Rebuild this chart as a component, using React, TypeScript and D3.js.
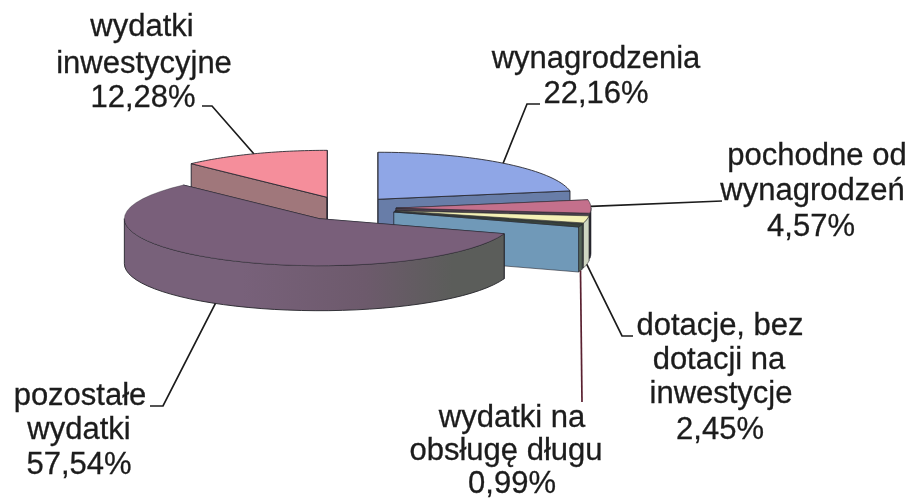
import React, { useEffect, useRef } from 'react'
import * as d3 from 'd3'

const categories = [
  'wynagrodzenia',
  'pochodne od wynagrodzeń',
  'dotacje, bez dotacji na inwestycje',
  'wydatki na obsługę długu',
  'pozostałe wydatki',
  'wydatki inwestycyjne',
]
const shares = [22.16, 4.57, 2.45, 0.99, 57.54, 12.28]
const labelLines = [
  ['wynagrodzenia'],
  ['pochodne od', 'wynagrodzeń'],
  ['dotacje, bez', 'dotacji na', 'inwestycje'],
  ['wydatki na', 'obsługę długu'],
  ['pozostałe', 'wydatki'],
  ['wydatki', 'inwestycyjne'],
]
const topColors = ['#8fa6e6', '#c4708c', '#f4f1b6', '#39443c', '#795f7a', '#f58e9b']
const sideColors = ['#687da8', '#4b3f4c', '#55604f', '#7099b8', '#5f5663', '#a0777b']
const rimColors = ['#687da8', '#23232b', '#cfd6c2', '#56665a', 'url(#rimPurple)', '#7a5f62']

// projection of the tilted pie
const cx = 346
const cy = 208.5
const rx = 195
const ry = 47
const depth = 45
const explode = 50

// label placement, one [x, baseline] per text line, same order as categories
const labelPos: [number, number][][] = [
  [[596, 68], [596, 103]],
  [[817, 165], [812.5, 200], [811, 236]],
  [[720, 335], [719, 369], [721, 403], [720, 439]],
  [[512, 427], [506, 460], [512, 493]],
  [[80, 405], [79, 439], [79, 474]],
  [[142, 36], [144, 73], [143, 107]],
]
const elbows: [number, number][][] = [
  [[527, 104], [540, 104]],
  [[722, 201]],
  [[622, 336], [633, 336]],
  [[582, 402]],
  [[163, 406], [150, 406]],
  [[212, 106], [202, 106]],
]
const leaderColors = ['#1c1c1c', '#1c1c1c', '#1c1c1c', '#5a2030', '#1c1c1c', '#1c1c1c']

const drawOrder = [5, 0, 1, 2, 3, 4]
const fmt = (v: number) => v.toFixed(2).replace('.', ',') + '%'

export default function App() {
  const ref = useRef<SVGSVGElement>(null)

  useEffect(() => {
    const svg = d3.select(ref.current)
    svg.selectAll('*').remove()

    const grad = svg.append('defs').append('linearGradient')
      .attr('id', 'rimPurple')
      .attr('gradientUnits', 'userSpaceOnUse')
      .attr('x1', 127).attr('x2', 510).attr('y1', 0).attr('y2', 0)
    grad.append('stop').attr('offset', '0.3').attr('stop-color', '#78617a')
    grad.append('stop').attr('offset', '0.62').attr('stop-color', '#6d5a6c')
    grad.append('stop').attr('offset', '0.85').attr('stop-color', '#5b5d5a')

    const arcs = d3.pie<number>().sort(null).value(d => d)(shares)

    // slice centre after pulling it out along its middle angle
    const apex = (a: d3.PieArcDatum<number>) => {
      const mid = (a.startAngle + a.endAngle) / 2
      return [cx + explode * Math.sin(mid), cy - explode * (ry / rx) * Math.cos(mid)]
    }
    const rim = (a: d3.PieArcDatum<number>, t: number, dz = 0): [number, number] => {
      const [ax, ay] = apex(a)
      return [ax + rx * Math.sin(t), ay - ry * Math.cos(t) + dz]
    }
    const steps = (t0: number, t1: number) =>
      d3.range(0, 41).map(i => t0 + ((t1 - t0) * i) / 40)
    const line = d3.line()

    const scan = svg.append('g').style('filter', 'blur(0.4px)')

    const pie = scan.append('g')
    drawOrder.forEach(i => {
      const a = arcs[i]
      const ap = apex(a) as [number, number]
      const apLow: [number, number] = [ap[0], ap[1] + depth]
      const g = pie.append('g').attr('class', 'slice').attr('data-name', categories[i])
      const thin = shares[i] < 5 ? 0.6 : 0.9

      // radial walls
      ;[a.startAngle, a.endAngle].forEach(t => {
        g.append('path')
          .attr('d', line([ap, rim(a, t), rim(a, t, depth), apLow]) + 'Z')
          .attr('fill', sideColors[i])
          .attr('stroke', '#20222c')
          .attr('stroke-width', thin)
      })

      // outer wall, only the part that faces the viewer
      const t0 = Math.max(a.startAngle, Math.PI / 2)
      const t1 = Math.min(a.endAngle, (3 * Math.PI) / 2)
      if (t1 > t0) {
        const upper = steps(t0, t1).map(t => rim(a, t))
        const lower = steps(t1, t0).map(t => rim(a, t, depth))
        g.append('path')
          .attr('d', line([...upper, ...lower]) + 'Z')
          .attr('fill', rimColors[i])
          .attr('stroke', '#25252a')
          .attr('stroke-width', thin)
      }

      // top face
      g.append('path')
        .attr('d', line([ap, ...steps(a.startAngle, a.endAngle).map(t => rim(a, t))]) + 'Z')
        .attr('fill', topColors[i])
        .attr('stroke', '#2b2b33')
        .attr('stroke-opacity', i === 4 ? 0.4 : 1)
        .attr('stroke-width', thin)
    })

    // leader lines run from the rim of the slice to the label
    arcs.forEach((a, i) => {
      const mid = (a.startAngle + a.endAngle) / 2
      const front = Math.cos(mid) < -0.1
      const start = rim(a, mid, front ? depth : 0)
      scan.append('path')
        .attr('d', line([start, ...elbows[i]]))
        .attr('fill', 'none')
        .attr('stroke', leaderColors[i])
        .attr('stroke-width', 1.7)
    })

    const labels = scan.append('g')
      .attr('font-family', '"Liberation Sans", Arial, sans-serif')
      .attr('font-size', 31)
      .attr('fill', '#1c1c1c')
      .attr('stroke', '#1c1c1c')
      .attr('stroke-width', 0.3)
      .attr('text-anchor', 'middle')

    labelLines.forEach((lines, i) => {
      const all = [...lines, fmt(shares[i])]
      all.forEach((txt, j) => {
        labels.append('text')
          .attr('x', labelPos[i][j][0])
          .attr('y', labelPos[i][j][1])
          .text(txt)
      })
    })
  }, [])

  return (
    <svg
      ref={ref}
      width={915}
      height={500}
      style={{ position: 'absolute', left: 0, top: 0, background: '#fff' }}
    />
  )
}
